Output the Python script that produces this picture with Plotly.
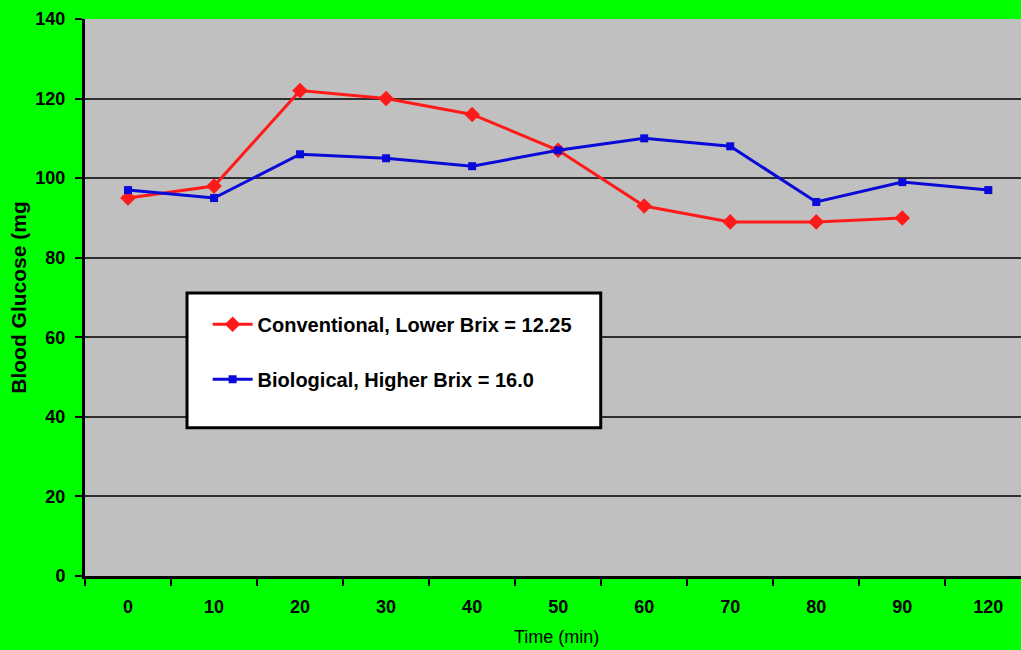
import plotly.graph_objects as go

time_labels = ["0", "10", "20", "30", "40", "50", "60", "70", "80", "90", "120"]
conventional = [95, 98, 122, 120, 116, 107, 93, 89, 89, 90, None]
biological = [97, 95, 106, 105, 103, 107, 110, 108, 94, 99, 97]
y_ticks = [0, 20, 40, 60, 80, 100, 120, 140]

name_conv = "Conventional, Lower Brix = 12.25"
name_bio = "Biological, Higher Brix = 16.0"

GREEN = "#00FF00"
GRAY = "#C0C0C0"
font_main = "Arial, Liberation Sans, sans-serif"

fig = go.Figure()
fig.add_trace(go.Scatter(
    x=time_labels, y=conventional, name=name_conv, mode="lines+markers",
    line=dict(color="#FF1A1A", width=3),
    marker=dict(symbol="diamond", size=12, color="#FF1A1A"),
    legendgroup="a", connectgaps=False,
))
fig.add_trace(go.Scatter(
    x=time_labels, y=biological, name=name_bio, mode="lines+markers",
    line=dict(color="#0A0AD8", width=3),
    marker=dict(symbol="square", size=8, color="#0A0AD8"),
    legendgroup="b",
))

fig.update_layout(
    width=1021, height=650,
    paper_bgcolor=GREEN, plot_bgcolor=GRAY,
    margin=dict(l=85, r=0, t=19, b=74),
    font=dict(family=font_main, color="black"),
    showlegend=True,
    legend=dict(
        x=0.131, y=0.487, xanchor="left", yanchor="top",
        bgcolor="rgba(0,0,0,0)", borderwidth=0,
        font=dict(family=font_main, size=20, color="black", weight="bold"),
        tracegroupgap=26, itemwidth=40,
    ),
    shapes=[dict(
        type="rect", xref="paper", yref="paper",
        x0=0.109, x1=0.551, y0=0.266, y1=0.508,
        fillcolor="white", line=dict(color="black", width=3), layer="above",
    )],
    xaxis=dict(
        type="category", categoryorder="array", categoryarray=time_labels,
        range=[-0.5, 10.38],
        showline=True, linecolor="black", linewidth=3,
        ticks="outside", tickson="boundaries", ticklen=7, tickwidth=2, tickcolor="black",
        tickfont=dict(family=font_main, size=18, color="black", weight="bold"),
        ticklabelstandoff=12,
        showgrid=False, zeroline=False,
    ),
    yaxis=dict(
        range=[0, 140], tickvals=y_ticks,
        showline=True, linecolor="black", linewidth=3,
        ticks="outside", ticklen=7, tickwidth=2, tickcolor="black",
        tickfont=dict(family=font_main, size=18, color="black", weight="bold"),
        ticklabelstandoff=6,
        showgrid=True, gridcolor="#303030", gridwidth=2,
        zeroline=False,
        title=dict(text="Blood Glucose (mg", standoff=4,
                   font=dict(family=font_main, size=21, color="black", weight="bold")),
    ),
)

fig.add_annotation(
    text="Time (min)", xref="paper", yref="paper", x=0.504, y=-0.11,
    xanchor="center", yanchor="middle", showarrow=False,
    font=dict(family=font_main, size=18, color="black"),
)

fig.write_html("out.html", config={"displayModeBar": False},
               post_script="document.body.style.margin='0';")
